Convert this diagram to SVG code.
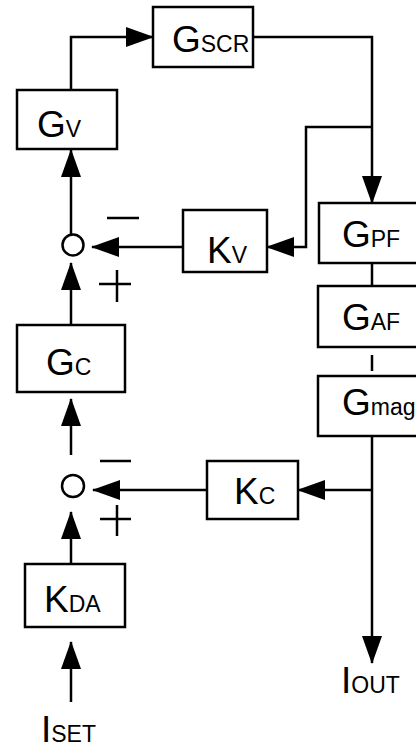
<svg xmlns="http://www.w3.org/2000/svg" width="416" height="750" viewBox="0 0 416 750">
<style>
.box{fill:#fff;stroke:#000;stroke-width:2.5}
.ln{fill:none;stroke:#000;stroke-width:2.5}
.arr{fill:none;stroke:#000;stroke-width:2.5;marker-end:url(#ah)}
.t{font-family:"Liberation Sans",Arial,sans-serif;font-size:37px;fill:#000}
.s{font-size:23px}
</style>
<defs>
<marker id="ah" markerUnits="userSpaceOnUse" markerWidth="28" markerHeight="20" refX="27" refY="10" orient="auto">
<path d="M0,0 L28,10 L0,20 Z" fill="#000"/>
</marker>
</defs>
<rect width="416" height="750" fill="#fff"/>
<g id="connectors">
<polyline class="arr" points="71,90 71,37 153,37"/>
<polyline class="arr" points="253,37 372,37 372,203"/>
<polyline class="arr" points="372,127 306,127 306,247 267,247"/>
<polyline class="arr" points="183,247 92,247"/>
<polyline class="arr" points="71,234 71,150"/>
<polyline class="arr" points="71,325 71,263"/>
<line class="ln" x1="372" y1="263" x2="372" y2="286"/>
<line class="ln" x1="372" y1="355" x2="372" y2="371"/>
<polyline class="arr" points="372,436 372,663"/>
<polyline class="arr" points="372,490 298,490"/>
<polyline class="arr" points="207,490 93,490"/>
<polyline class="arr" points="71,455 71,399"/>
<polyline class="arr" points="71,564 71,512"/>
<polyline class="arr" points="71,702 71,642"/>
<circle class="ln" cx="73" cy="245" r="10.5"/>
<circle class="ln" cx="73" cy="486" r="11"/>
<path class="ln" d="M107,218 H139 M99,284 H131 M117,270 V302 M100,461 H131 M100,519 H131 M117,505 V536"/>
</g>
<g id="GSCR"><rect class="box" x="153" y="7" width="100" height="60"/><text class="t" x="172" y="52">G<tspan class="s">SCR</tspan></text></g>
<g id="GV"><rect class="box" x="17" y="90" width="100" height="59"/><text class="t" x="37" y="137">G<tspan class="s">V</tspan></text></g>
<g id="KV"><rect class="box" x="183" y="210" width="84" height="62"/><text class="t" x="207" y="263">K<tspan class="s">V</tspan></text></g>
<g id="GPF"><rect class="box" x="319" y="203" width="106" height="60"/><text class="t" x="342" y="247">G<tspan class="s">PF</tspan></text></g>
<g id="GAF"><rect class="box" x="318" y="286" width="106" height="61"/><text class="t" x="342" y="330">G<tspan class="s">AF</tspan></text></g>
<g id="Gmag"><rect class="box" x="318" y="376" width="106" height="60"/><text class="t" x="342" y="415">G<tspan class="s" font-size="25">mag</tspan></text></g>
<g id="GC"><rect class="box" x="17" y="325" width="108" height="67"/><text class="t" x="46" y="375">G<tspan class="s">C</tspan></text></g>
<g id="KC"><rect class="box" x="207" y="461" width="91" height="58"/><text class="t" x="234" y="504">K<tspan class="s">C</tspan></text></g>
<g id="KDA"><rect class="box" x="25" y="564" width="100" height="63"/><text class="t" x="44" y="612">K<tspan class="s">DA</tspan></text></g>
<g id="IOUT"><text class="t" x="341" y="693">I<tspan class="s">OUT</tspan></text></g>
<g id="ISET"><text class="t" x="41" y="742">I<tspan class="s">SET</tspan></text></g>
</svg>
